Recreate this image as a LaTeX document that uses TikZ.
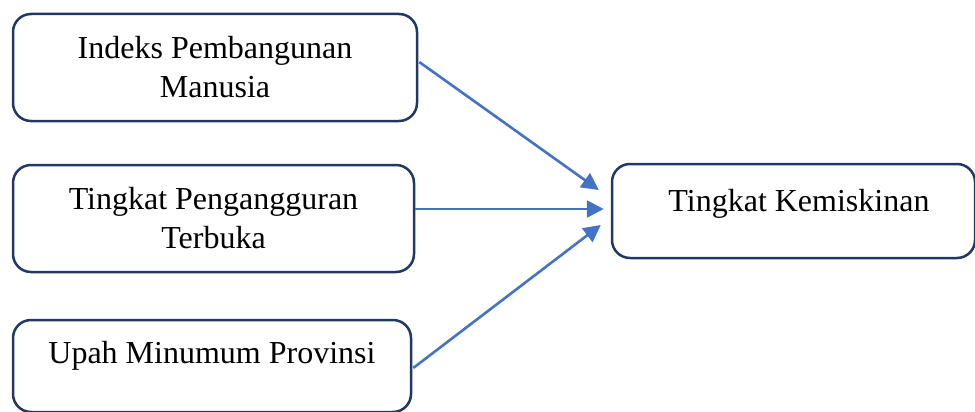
\documentclass[tikz,border=0pt]{standalone}
\usepackage{fontspec}
\setmainfont{Liberation Serif}
\usetikzlibrary{arrows.meta,calc}
\definecolor{boxline}{RGB}{31,56,100}
\definecolor{arrowblue}{RGB}{68,114,196}
\begin{document}
\begin{tikzpicture}[x=1pt,y=-1pt,
  box/.style={draw=boxline,line width=2.5pt,rounded corners=18pt,inner sep=0pt,
    align=center,font=\fontsize{32}{39}\selectfont},
  conn/.style={draw=arrowblue,line width=2.6pt,-{Triangle[length=17pt,width=17pt]}}]
\useasboundingbox (0,0) rectangle (975,412);
\node[box,minimum width=404pt,minimum height=107pt] (b1) at (215,67.5)
  {Indeks Pembangunan\\Manusia};
\node[box,minimum width=401pt,minimum height=107pt] (b2) at (213.5,218.5)
  {Tingkat Pengangguran\\Terbuka};
\node[box,minimum width=398pt,minimum height=92pt,text height=22pt,text depth=27pt] (b3) at (212,366)
  {Upah Minumum Provinsi};
\node[box,minimum width=363pt,minimum height=94pt,text height=22pt,text depth=22pt] (b4) at (793.5,211)
  {\hspace*{11pt}Tingkat Kemiskinan};
\draw[conn] ($(b1.east)+(1,-5.5)$) -- ($(b4.west)+(-12,-21)$);
\draw[conn] ($(b2.east)+(0,-9.5)$) -- ($(b4.west)+(-7,-2)$);
\draw[conn] ($(b3.east)+(1,2)$) -- ($(b4.west)+(-10,14)$);
\end{tikzpicture}
\end{document}
